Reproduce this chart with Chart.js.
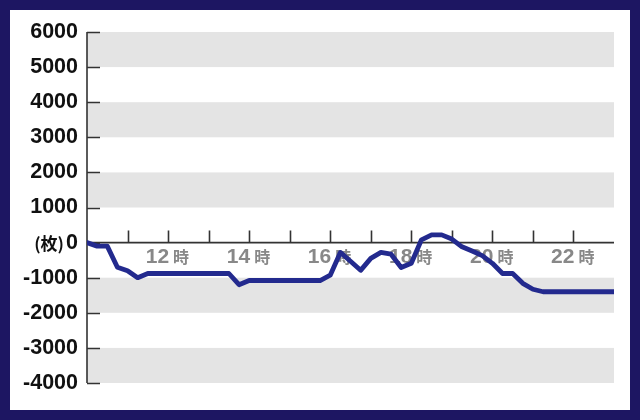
<!DOCTYPE html>
<html>
<head>
<meta charset="utf-8">
<script src="https://cdn.jsdelivr.net/npm/chart.js@4.4.1/dist/chart.umd.min.js"></script>
<style>
  html, body { margin: 0; padding: 0; background: #fff; }
  .frame {
    width: 620px;
    height: 400px;
    padding: 10px;
    background: #1d1662;
  }
  canvas { display: block; background: #fff; }
</style>
</head>
<body>
<div class="frame">
  <canvas id="chart" width="620" height="400"></canvas>
</div>
<script>
// time of day (hours) and position (枚)
const hours = [10, 10.25, 10.5, 10.75, 11, 11.25, 11.5, 13.5, 13.75, 14, 15.75, 16, 16.25, 16.5, 16.75, 17, 17.25, 17.5, 17.75, 18, 18.25, 18.5, 18.75, 19, 19.25, 19.5, 19.75, 20, 20.25, 20.5, 20.75, 21, 21.25, 23];
const counts = [0, -100, -100, -700, -800, -1000, -880, -880, -1200, -1080, -1080, -930, -280, -530, -790, -450, -280, -330, -710, -590, 80, 220, 220, 100, -120, -240, -370, -590, -880, -880, -1160, -1330, -1400, -1400];
const hourTicks = [11, 12, 13, 14, 15, 16, 17, 18, 19, 20, 21, 22];
const hourLabels = [12, 14, 16, 18, 20, 22];
const bandRanges = [[5000, 6000], [3000, 4000], [1000, 2000], [-2000, -1000], [-4000, -3000]];

const frame = {
  id: "frame",
  beforeDatasetsDraw(chart) {
    const { ctx, chartArea: a, scales: { x, y } } = chart;
    const y0 = y.getPixelForValue(0);
    ctx.save();

    // grey bands
    ctx.fillStyle = "#e4e4e4";
    bandRanges.forEach(([lo, hi]) => {
      const top = y.getPixelForValue(hi);
      const bot = y.getPixelForValue(lo);
      ctx.fillRect(a.left, top, a.right - a.left, bot - top);
    });

    ctx.strokeStyle = "#333";
    ctx.lineWidth = 1.6;

    // y axis + ticks pointing inward
    ctx.beginPath();
    ctx.moveTo(a.left, a.top);
    ctx.lineTo(a.left, a.bottom);
    y.ticks.forEach((t) => {
      const py = Math.round(y.getPixelForValue(t.value)) + 0.5;
      ctx.moveTo(a.left, py);
      ctx.lineTo(a.left + 13, py);
    });
    ctx.stroke();

    // x axis at zero + ticks pointing up
    ctx.beginPath();
    ctx.moveTo(a.left, y0);
    ctx.lineTo(a.right, y0);
    hourTicks.forEach((h) => {
      const px = Math.round(x.getPixelForValue(h)) + 0.5;
      ctx.moveTo(px, y0);
      ctx.lineTo(px, y0 - 12);
    });
    ctx.stroke();

    // hour labels
    ctx.fillStyle = "#888";
    ctx.textBaseline = "alphabetic";
    hourLabels.forEach((h) => {
      const px = x.getPixelForValue(h);
      ctx.font = "bold 21px 'Liberation Sans', Arial, sans-serif";
      ctx.textAlign = "right";
      ctx.fillText(String(h), px + 1, y0 + 20);
      ctx.font = "bold 16px 'Noto Sans CJK JP', sans-serif";
      ctx.textAlign = "left";
      ctx.fillText("時", px + 5, y0 + 20);
    });

    // unit label
    ctx.fillStyle = "#111";
    ctx.font = "bold 17px 'Noto Sans CJK JP', sans-serif";
    ctx.textAlign = "right";
    ctx.textBaseline = "middle";
    ctx.fillText("(枚)", 54, y0 + 1);

    ctx.restore();
  },
};

new Chart(document.getElementById("chart"), {
  type: "line",
  data: {
    datasets: [
      {
        data: hours.map((h, i) => ({ x: h, y: counts[i] })),
        borderColor: "#232a8e",
        borderWidth: 4.8,
        borderJoinStyle: "round",
        borderCapStyle: "round",
        pointRadius: 0,
        tension: 0,
        fill: false,
      },
    ],
  },
  options: {
    responsive: false,
    animation: false,
    devicePixelRatio: 1,
    layout: {
      padding: { top: 22, right: 16, bottom: 27, left: 0 },
    },
    plugins: {
      legend: false,
      tooltip: { enabled: false },
    },
    scales: {
      x: {
        type: "linear",
        min: 10,
        max: 23,
        display: false,
      },
      y: {
        min: -4000,
        max: 6000,
        afterFit(scale) {
          scale.width = 77;
        },
        grid: { display: false, drawTicks: false },
        border: { display: false },
        ticks: {
          stepSize: 1000,
          padding: 9,
          color: "#111",
          font: { family: "'Liberation Sans', Arial, sans-serif", weight: "bold", size: 21.5 },
          callback: (v) => String(v),
        },
      },
    },
  },
  plugins: [frame],
});
</script>
</body>
</html>
